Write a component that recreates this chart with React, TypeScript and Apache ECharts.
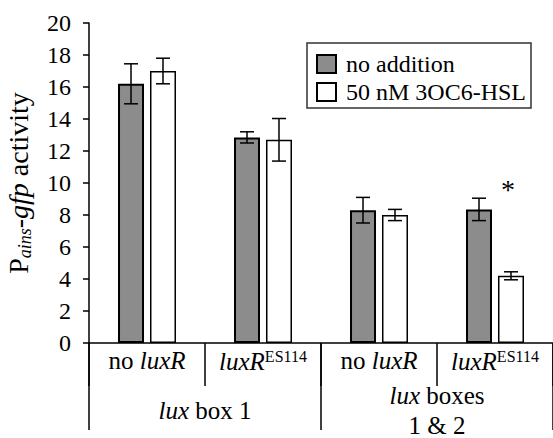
import React, { useEffect, useRef } from "react";
import * as echarts from "echarts";

const categories = ["no luxR", "luxR^ES114", "no luxR", "luxR^ES114"];
const groups = ["lux box 1", "lux boxes\n1 & 2"];
const seriesNames = ["no addition", "50 nM 3OC6-HSL"];
const noAddition = [16.2, 12.85, 8.3, 8.35];
const noAdditionErr = [1.25, 0.35, 0.8, 0.7];
const withHSL = [17.0, 12.7, 8.0, 4.2];
const withHSLErr = [0.8, 1.33, 0.35, 0.25];
const significance = ["", "", "", "*"];
const yMin = 0;
const yMax = 20;
const yInterval = 2;

const FONT = "Times, Liberation Serif, serif";
const BAR_W = 26;
const BAR_GAP_PCT = 23;

function catLabel(v: string) {
  if (v.startsWith("no ")) return "{r|no }{i|" + v.slice(3) + "}";
  const [base, sup] = v.split("^");
  return "{i|" + base + "}{s|" + sup + "}";
}

function groupLabel(v: string) {
  const lines = v.split("\n");
  return lines
    .map((ln) => {
      if (ln.startsWith("lux")) return "{i|lux}{r|" + ln.slice(3) + "}";
      return "{r|" + ln + "}";
    })
    .join("\n");
}

export default function App() {
  const ref = useRef<HTMLDivElement>(null);
  useEffect(() => {
    if (!ref.current) return;
    const chart = echarts.init(ref.current, null, { renderer: "svg" });
    const gap = (BAR_GAP_PCT / 100) * BAR_W;
    const offset = (BAR_W + gap) / 2;
    const errData: number[][] = [];
    noAddition.forEach((v, i) => errData.push([i, v, noAdditionErr[i], -1]));
    withHSL.forEach((v, i) => errData.push([i, v, withHSLErr[i], 1]));

    chart.setOption({
      animation: false,
      textStyle: { fontFamily: FONT },
      grid: { left: 89, right: 0, top: 23, bottom: 95, containLabel: false, outerBoundsMode: "none" },
      legend: {
        orient: "vertical",
        left: 307,
        top: 43,
        data: seriesNames,
        itemWidth: 19,
        itemHeight: 18,
        itemGap: 4,
        padding: [9, 5, 4, 9],
        borderColor: "#333",
        borderWidth: 1.5,
        borderRadius: 0,
        icon: "rect",
        formatter: (name: string) => "{a|" + name + "}",
        textStyle: {
          fontFamily: FONT,
          fontSize: 24,
          color: "#000",
          lineHeight: 24,
          padding: [0, 0, 0, 5],
          rich: {
            a: { fontFamily: FONT, fontSize: 24, color: "#000", lineHeight: 24 },
          },
        },
      },
      xAxis: [
        {
          type: "category",
          data: categories,
          position: "bottom",
          boundaryGap: true,
          axisLine: { show: true, lineStyle: { color: "#000", width: 1.5 } },
          axisTick: { show: true, length: 43, lineStyle: { color: "#000", width: 1.5 } },
          axisLabel: {
            interval: 0,
            margin: 5,
            formatter: catLabel,
            color: "#000",
            fontFamily: FONT,
            rich: {
              r: { fontFamily: FONT, fontSize: 25, color: "#000" },
              i: { fontFamily: FONT, fontSize: 25, fontStyle: "italic", color: "#000" },
              s: { fontFamily: FONT, fontSize: 16, color: "#000", padding: [0, 0, 10, 0] },
            },
          },
        },
        {
          type: "category",
          data: groups,
          position: "bottom",
          boundaryGap: true,
          axisLine: { show: false },
          axisTick: { show: true, length: 87, lineStyle: { color: "#000", width: 1.5 } },
          axisLabel: {
            interval: 0,
            margin: 67,
            verticalAlign: "middle",
            formatter: groupLabel,
            color: "#000",
            fontFamily: FONT,
            lineHeight: 30,
            rich: {
              r: { fontFamily: FONT, fontSize: 25, color: "#000", lineHeight: 30 },
              i: { fontFamily: FONT, fontSize: 25, fontStyle: "italic", color: "#000", lineHeight: 30 },
            },
          },
        },
      ],
      yAxis: {
        type: "value",
        min: yMin,
        max: yMax,
        interval: yInterval,
        splitLine: { show: false },
        axisLine: { show: true, lineStyle: { color: "#000", width: 1.5 } },
        axisTick: { show: true, length: 6, lineStyle: { color: "#000", width: 1.5 } },
        axisLabel: {
          fontFamily: FONT,
          fontSize: 23,
          color: "#000",
          margin: 18,
          formatter: (v: number) => "{n|" + v + "}",
          rich: { n: { fontFamily: FONT, fontSize: 24, color: "#000" } },
        },
        name: "{p|P}{sub|ains}{t|-}{i|gfp}{t| activity}",
        nameLocation: "middle",
        nameGap: 55,
        nameTextStyle: {
          fontFamily: FONT,
          rich: {
            p: { fontFamily: FONT, fontSize: 28, color: "#000" },
            t: { fontFamily: FONT, fontSize: 28, color: "#000" },
            i: { fontFamily: FONT, fontSize: 28, fontStyle: "italic", color: "#000" },
            sub: {
              fontFamily: FONT,
              fontSize: 18,
              fontStyle: "italic",
              color: "#000",
              padding: [14, 0, 0, 0],
            },
          },
        },
      },
      series: [
        {
          name: seriesNames[0],
          type: "bar",
          xAxisIndex: 0,
          barWidth: BAR_W,
          barGap: BAR_GAP_PCT + "%",
          data: noAddition,
          itemStyle: { color: "#8c8c8c", borderColor: "#000", borderWidth: 2 },
        },
        {
          name: seriesNames[1],
          type: "bar",
          xAxisIndex: 0,
          barWidth: BAR_W,
          barGap: BAR_GAP_PCT + "%",
          data: withHSL.map((v, i) =>
            significance[i]
              ? {
                  value: v,
                  label: {
                    show: true,
                    position: "top",
                    distance: 72,
                    offset: [-3, 0],
                    formatter: "{a|" + significance[i] + "}",
                    rich: { a: { fontFamily: FONT, fontSize: 28, color: "#000" } },
                  },
                }
              : v
          ),
          itemStyle: { color: "#ffffff", borderColor: "#000", borderWidth: 1.5 },
        },
        {
          type: "custom",
          xAxisIndex: 0,
          z: 5,
          silent: true,
          encode: { x: 0, y: 1 },
          data: errData,
          renderItem: (params: any, api: any) => {
            const cat = api.value(0);
            const mean = api.value(1);
            const err = api.value(2);
            const side = api.value(3);
            const top = api.coord([cat, mean + err]);
            const bot = api.coord([cat, mean - err]);
            const x = top[0] + side * offset;
            const half = 7;
            const style = { stroke: "#000", lineWidth: 1.5 };
            return {
              type: "group",
              children: [
                { type: "line", shape: { x1: x, y1: top[1], x2: x, y2: bot[1] }, style },
                { type: "line", shape: { x1: x - half, y1: top[1], x2: x + half, y2: top[1] }, style },
                { type: "line", shape: { x1: x - half, y1: bot[1], x2: x + half, y2: bot[1] }, style },
              ],
            };
          },
        },
      ],
    });
    return () => chart.dispose();
  }, []);
  return (
    <div
      ref={ref}
      style={{ position: "fixed", left: 0, top: 0, width: 553, height: 438, background: "#fff" }}
    />
  );
}
